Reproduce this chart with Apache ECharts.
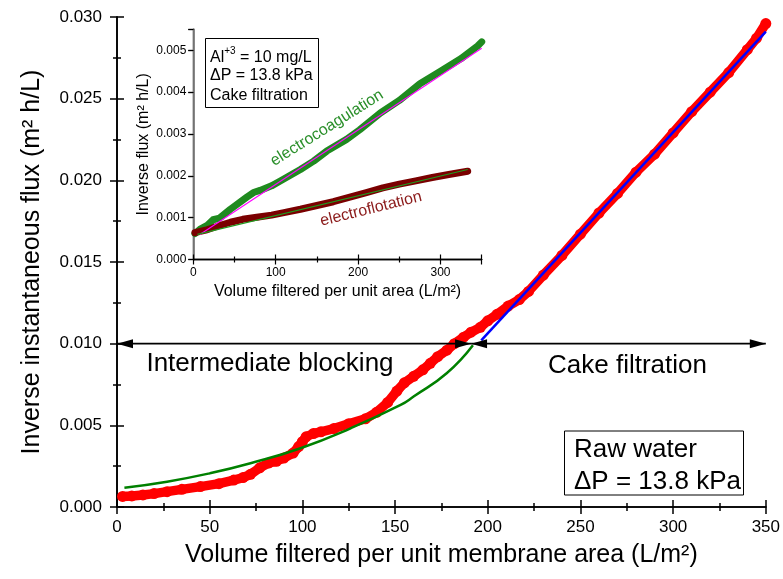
<!DOCTYPE html>
<html>
<head>
<meta charset="utf-8">
<script src="https://cdn.jsdelivr.net/npm/echarts@6/dist/echarts.min.js"></script>
<style>
html,body{margin:0;padding:0;background:#fff;}
#chart{width:783px;height:579px;}
</style>
</head>
<body>
<div id="chart"></div>
<script>
// ---------------- Main chart data ----------------
const rawX = [3,8,14,20,27,35,45,55,63,68,72,77,82,86,90,95,98,100,102,106,110,117,125,134,140,146,151,155,160,165,169,173,178,182,187,191,196,200,205,211,217,222,230,240,250,260,270,280,290,300,310,320,330,340,345,350];
const rawY = [0.00065,0.00068,0.00074,0.00082,0.00094,0.00108,0.00125,0.00143,0.00165,0.0018,0.0020,0.0024,0.0027,0.0028,0.0030,0.0033,0.0037,0.0040,0.0043,0.0045,0.0046,0.0048,0.0051,0.0054,0.0058,0.0064,0.0071,0.0076,0.0080,0.0084,0.0088,0.0092,0.0096,0.0100,0.0104,0.0107,0.0110,0.0114,0.0118,0.0123,0.0127,0.0132,0.0142,0.0154,0.0167,0.0180,0.0192,0.0205,0.0216,0.0229,0.0242,0.0254,0.0266,0.0280,0.0287,0.0296];

const interX = [4,27,50,72,99,126,153,160,178,192];
const interY = [0.00118,0.00155,0.00206,0.00268,0.0036,0.00482,0.00625,0.00676,0.0082,0.0099];

const cakeX = [196.5,350];
const cakeY = [0.0102,0.0291];

// arrows: [start x, end x, y]
const arrowSegments = [[0,191,0.010],[191,350,0.010]];

// ---------------- Inset data ----------------
const ecX = [2,8,17,24,32,45,65,73,81,95,105,130,146,162,186,202,227,250,275,300,325,345,350];
const ecY = [0.00062,0.00072,0.00082,0.00095,0.00099,0.0012,0.00149,0.0016,0.00165,0.00176,0.00187,0.00215,0.00235,0.00259,0.00287,0.0031,0.0035,0.0038,0.0042,0.0045,0.0048,0.0051,0.0052];
const ecFitX = [8,350];
const ecFitY = [0.0006,0.00505];

const efX = [2,15,30,45,60,77,95,110,130,150,170,190,210,230,250,270,290,310,333];
const efY = [0.00064,0.0007,0.0008,0.00089,0.00096,0.00101,0.00106,0.00112,0.0012,0.00129,0.00138,0.00149,0.0016,0.00171,0.0018,0.00188,0.00196,0.00203,0.00211];
const efFitX = [5,333];
const efFitY = [0.0006,0.00215];

const zip = (a,b) => a.map((v,i)=>[v,b[i]]);
const FONT = "'Liberation Sans', Arial, sans-serif";

const chart = echarts.init(document.getElementById('chart'), null, {renderer:'canvas'});

function stepFmt(step, dec){
  return v => {
    const k = v/step;
    if (Math.abs(k-Math.round(k))>1e-6) return '';
    return v.toFixed(dec);
  };
}

const black = '#000';

const option = {
  animation:false,
  backgroundColor:'#fff',
  textStyle:{fontFamily:FONT},
  grid:[
    {left:117, top:17, width:649.5, height:490},
    {left:193.3, top:29.3, width:288.4, height:230.2}
  ],
  xAxis:[
    {gridIndex:0, type:'value', min:0, max:350, interval:50, position:'bottom',
     axisLine:{lineStyle:{color:black,width:1.6}},
     axisTick:{inside:false,length:7,lineStyle:{color:black,width:1.5}},
     minorTick:{show:true,splitNumber:2,length:4,lineStyle:{color:black,width:1.5}},
     axisLabel:{color:black,fontSize:17,margin:12,fontFamily:FONT},
     splitLine:{show:false},
     name:'Volume filtered per unit membrane area (L/m²)', nameLocation:'middle', nameGap:36,
     nameTextStyle:{color:black,fontSize:25,fontFamily:FONT}},
    {gridIndex:0, type:'value', min:0, max:350, interval:50, position:'top',
     axisLine:{lineStyle:{color:black,width:1.6}},
     axisTick:{inside:false,length:7,lineStyle:{color:black,width:1.5}},
     minorTick:{show:true,splitNumber:2,length:4,lineStyle:{color:black,width:1.5}},
     axisLabel:{show:false}, splitLine:{show:false}},
    {gridIndex:1, type:'value', min:0, max:350, interval:100, position:'bottom',
     axisLine:{lineStyle:{color:black,width:1.4}},
     axisTick:{inside:false,length:5,lineStyle:{color:black,width:1.2}},
     minorTick:{show:true,splitNumber:2,length:3,lineStyle:{color:black,width:1.2}},
     axisLabel:{color:black,fontSize:12,margin:7,fontFamily:FONT,formatter:stepFmt(100,0)},
     splitLine:{show:false},
     name:'Volume filtered per unit area (L/m²)', nameLocation:'middle', nameGap:24,
     nameTextStyle:{color:black,fontSize:16,fontFamily:FONT}},
    {gridIndex:1, type:'value', min:0, max:350, interval:100, position:'top',
     axisLine:{lineStyle:{color:black,width:1.4}},
     axisTick:{inside:false,length:5,lineStyle:{color:black,width:1.2}},
     minorTick:{show:true,splitNumber:2,length:3,lineStyle:{color:black,width:1.2}},
     axisLabel:{show:false}, splitLine:{show:false}}
  ],
  yAxis:[
    {gridIndex:0, type:'value', min:0, max:0.03, interval:0.005, position:'left',
     axisLine:{show:true,lineStyle:{color:black,width:1.6}},
     axisTick:{show:true,inside:false,length:7,lineStyle:{color:black,width:1.5}},
     minorTick:{show:true,splitNumber:2,length:4,lineStyle:{color:black,width:1.5}},
     axisLabel:{color:black,fontSize:17,margin:15,fontFamily:FONT,formatter:v=>v.toFixed(3)},
     splitLine:{show:false},
     name:'Inverse instantaneous flux (m² h/L)', nameLocation:'middle', nameGap:72,
     nameTextStyle:{color:black,fontSize:25,fontFamily:FONT}},
    {gridIndex:0, type:'value', min:0, max:0.03, interval:0.005, position:'right',
     axisLine:{show:true,lineStyle:{color:black,width:1.6}},
     axisTick:{show:true,inside:false,length:7,lineStyle:{color:black,width:1.5}},
     minorTick:{show:true,splitNumber:2,length:4,lineStyle:{color:black,width:1.5}},
     axisLabel:{show:false}, splitLine:{show:false}},
    {gridIndex:1, type:'value', min:0, max:0.0055, interval:0.001, position:'left',
     axisLine:{show:true,lineStyle:{color:black,width:1.4}},
     axisTick:{show:true,inside:false,length:5,lineStyle:{color:black,width:1.2}},
     axisLabel:{color:black,fontSize:12,margin:7,fontFamily:FONT,formatter:stepFmt(0.001,3)},
     splitLine:{show:false},
     name:'Inverse flux (m² h/L)', nameLocation:'middle', nameGap:42,
     nameTextStyle:{color:black,fontSize:16,fontFamily:FONT}},
    {gridIndex:1, type:'value', min:0, max:0.0055, interval:0.001, position:'right',
     axisLine:{show:true,lineStyle:{color:'#808080',width:1.8}},
     axisTick:{show:true,inside:true,length:5,lineStyle:{color:black,width:1.2}},
     axisLabel:{show:false}, splitLine:{show:false}}
  ],
  series:[
    {type:'line', name:'raw', xAxisIndex:0, yAxisIndex:0, data:zip(rawX,rawY),
     symbol:'circle', symbolSize:11, showSymbol:true,
     itemStyle:{color:'#ff0000'}, lineStyle:{color:'#ff0000',width:9.5,cap:'round',join:'round'}, z:2},
    {type:'line', name:'intermediate', xAxisIndex:0, yAxisIndex:0, data:zip(interX,interY),
     smooth:true, showSymbol:false, symbol:'none', lineStyle:{color:'#008000',width:2.5}, z:3},
    {type:'line', name:'cake', xAxisIndex:0, yAxisIndex:0, data:zip(cakeX,cakeY),
     showSymbol:false, symbol:'none', lineStyle:{color:'#0000ff',width:2.5}, z:4},
    {type:'custom', name:'arrows', xAxisIndex:0, yAxisIndex:0, data:arrowSegments, z:5,
     renderItem:function(params, api){
       const p1 = api.coord([api.value(0), api.value(2)]);
       const p2 = api.coord([api.value(1), api.value(2)]);
       const L = 16, W = 9;
       return {type:'group', children:[
         {type:'line', shape:{x1:p1[0],y1:p1[1],x2:p2[0],y2:p2[1]}, style:{stroke:'#000',lineWidth:1.6}},
         {type:'polygon', shape:{points:[[p1[0],p1[1]],[p1[0]+L,p1[1]-W/2],[p1[0]+L,p1[1]+W/2]]}, style:{fill:'#000'}},
         {type:'polygon', shape:{points:[[p2[0],p2[1]],[p2[0]-L,p2[1]-W/2],[p2[0]-L,p2[1]+W/2]]}, style:{fill:'#000'}}
       ]};
     }},
    {type:'line', name:'electrocoagulation', xAxisIndex:2, yAxisIndex:2, data:zip(ecX,ecY),
     showSymbol:false, symbol:'none', lineStyle:{color:'#1f8a1f',width:7,cap:'round',join:'round'}, z:2},
    {type:'line', name:'ecFit', xAxisIndex:2, yAxisIndex:2, data:zip(ecFitX,ecFitY),
     showSymbol:false, symbol:'none', lineStyle:{color:'#ff00ff',width:1.2}, z:3},
    {type:'line', name:'electroflotation', xAxisIndex:2, yAxisIndex:2, data:zip(efX,efY),
     showSymbol:false, symbol:'none', lineStyle:{color:'#7a0000',width:7,cap:'round',join:'round'}, z:2},
    {type:'line', name:'efFit', xAxisIndex:2, yAxisIndex:2, data:zip(efFitX,efFitY),
     showSymbol:false, symbol:'none', lineStyle:{color:'#1f9a1f',width:1.2}, z:3}
  ],
  graphic:[
    {type:'text', x:270, y:364, style:{text:'Intermediate blocking', font:'26px '+FONT, fill:'#000', align:'center', verticalAlign:'middle'}},
    {type:'text', x:627.5, y:366, style:{text:'Cake filtration', font:'26px '+FONT, fill:'#000', align:'center', verticalAlign:'middle'}},
    {type:'rect', shape:{x:564.5, y:431, width:179, height:64}, style:{fill:'#fff', stroke:'#000', lineWidth:1}},
    {type:'text', x:574, y:450, style:{text:'Raw water', font:'26px '+FONT, fill:'#000', align:'left', verticalAlign:'middle'}},
    {type:'text', x:574, y:482, style:{text:'ΔP = 13.8 kPa', font:'26px '+FONT, fill:'#000', align:'left', verticalAlign:'middle'}},
    {type:'rect', shape:{x:205.5, y:38.5, width:113, height:69}, style:{fill:'#fff', stroke:'#000', lineWidth:1}},
    {type:'text', x:210, y:56, style:{
      text:'{a|Al}{s|+3}{a| = 10 mg/L}', align:'left', verticalAlign:'middle',
      rich:{a:{fontSize:16, fontFamily:FONT, fill:'#000', lineHeight:20, verticalAlign:'bottom'},
            s:{fontSize:10, fontFamily:FONT, fill:'#000', lineHeight:20, verticalAlign:'top'}}}},
    {type:'text', x:210, y:76, style:{text:'ΔP = 13.8 kPa', font:'16px '+FONT, fill:'#000', align:'left', verticalAlign:'middle'}},
    {type:'text', x:210, y:96, style:{text:'Cake filtration', font:'16px '+FONT, fill:'#000', align:'left', verticalAlign:'middle'}},
    {type:'text', x:327, y:128, rotation:32*Math.PI/180, style:{text:'electrocoagulation', font:'16px '+FONT, fill:'#2a8f2a', align:'center', verticalAlign:'middle'}},
    {type:'text', x:371, y:209, rotation:14*Math.PI/180, style:{text:'electroflotation', font:'16px '+FONT, fill:'#8b1a1a', align:'center', verticalAlign:'middle'}}
  ]
};
chart.setOption(option);
</script>
</body>
</html>
